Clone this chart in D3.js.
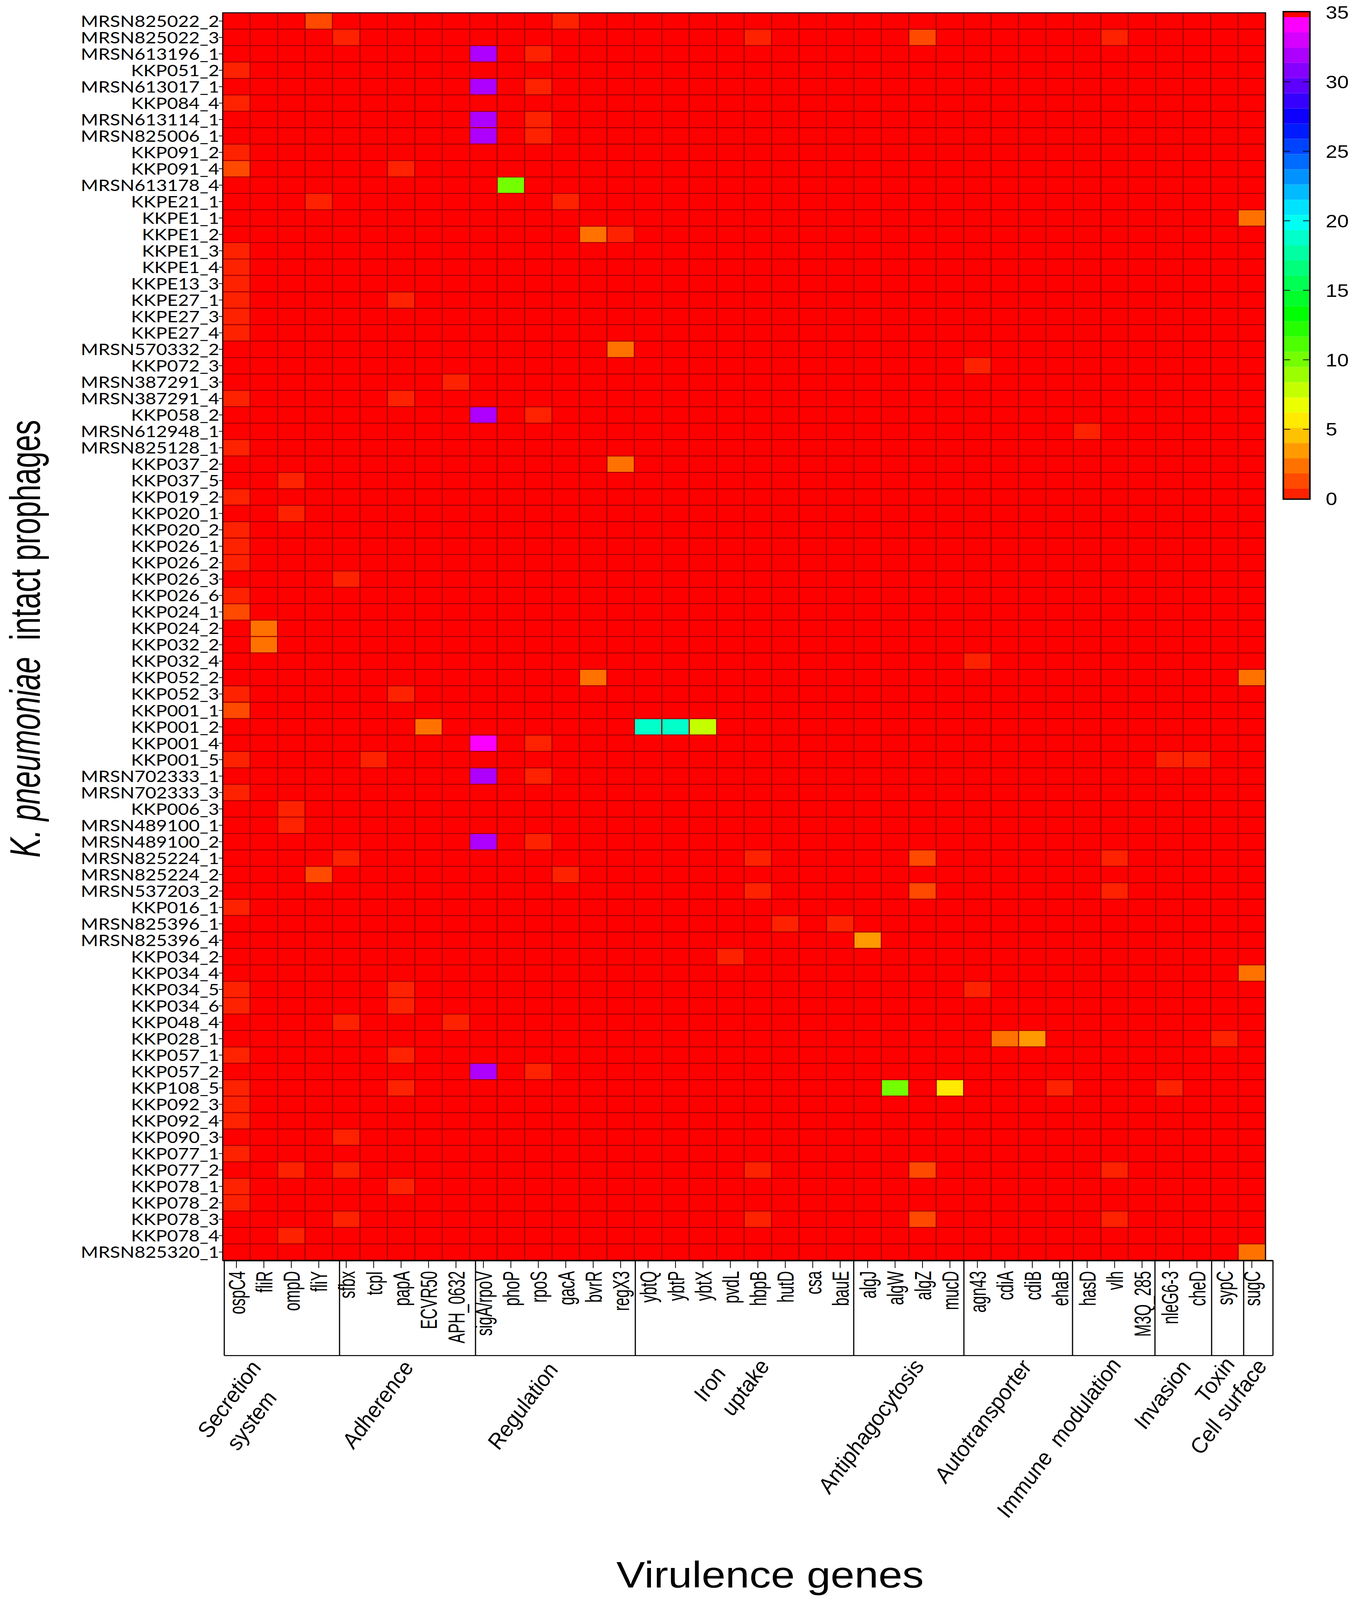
<!DOCTYPE html>
<html>
<head>
<meta charset="utf-8">
<script src="https://cdnjs.cloudflare.com/ajax/libs/d3/7.8.5/d3.min.js"></script>
<style>
  html, body { margin: 0; padding: 0; background: #fff; overflow: hidden; }
  svg { display: block; width: 100vw; height: 100vh; }
  text { fill: #000; }
</style>
</head>
<body>
<svg id="chart"></svg>
<script>
/* DATA */
const prophages = [
  "MRSN825022_2", "MRSN825022_3", "MRSN613196_1", "KKP051_2", "MRSN613017_1", "KKP084_4",
  "MRSN613114_1", "MRSN825006_1", "KKP091_2", "KKP091_4", "MRSN613178_4", "KKPE21_1",
  "KKPE1_1", "KKPE1_2", "KKPE1_3", "KKPE1_4", "KKPE13_3", "KKPE27_1", "KKPE27_3", "KKPE27_4",
  "MRSN570332_2", "KKP072_3", "MRSN387291_3", "MRSN387291_4", "KKP058_2", "MRSN612948_1",
  "MRSN825128_1", "KKP037_2", "KKP037_5", "KKP019_2", "KKP020_1", "KKP020_2", "KKP026_1",
  "KKP026_2", "KKP026_3", "KKP026_6", "KKP024_1", "KKP024_2", "KKP032_2", "KKP032_4",
  "KKP052_2", "KKP052_3", "KKP001_1", "KKP001_2", "KKP001_4", "KKP001_5", "MRSN702333_1",
  "MRSN702333_3", "KKP006_3", "MRSN489100_1", "MRSN489100_2", "MRSN825224_1", "MRSN825224_2",
  "MRSN537203_2", "KKP016_1", "MRSN825396_1", "MRSN825396_4", "KKP034_2", "KKP034_4",
  "KKP034_5", "KKP034_6", "KKP048_4", "KKP028_1", "KKP057_1", "KKP057_2", "KKP108_5",
  "KKP092_3", "KKP092_4", "KKP090_3", "KKP077_1", "KKP077_2", "KKP078_1", "KKP078_2",
  "KKP078_3", "KKP078_4", "MRSN825320_1"
];

const genes = [
  "ospC4", "fliR", "ompD", "fliY", "sfbx", "tcpI", "papA", "ECVR50", "APH_0632", "sigA/rpoV",
  "phoP", "rpoS", "gacA", "bvrR", "regX3", "ybtQ", "ybtP", "ybtX", "pvdL", "hbpB", "hutD",
  "csa", "bauE", "algJ", "algW", "algZ", "mucD", "agn43", "cdiA", "cdiB", "ehaB", "hasD",
  "vlh", "M3Q_285", "nleG6-3", "cheD", "sypC", "sugC"
];

// Cells that are not 0: [prophage, gene, value]
const nonZeroCells = [
  ["MRSN825022_2", "fliY", 1], ["MRSN825022_2", "gacA", 0.5],
  ["MRSN825022_3", "sfbx", 0.5], ["MRSN825022_3", "hbpB", 0.5], ["MRSN825022_3", "algZ", 1], ["MRSN825022_3", "vlh", 0.5],
  ["MRSN613196_1", "sigA/rpoV", 32], ["MRSN613196_1", "rpoS", 0.5],
  ["KKP051_2", "ospC4", 0.5],
  ["MRSN613017_1", "sigA/rpoV", 32], ["MRSN613017_1", "rpoS", 0.5],
  ["KKP084_4", "ospC4", 0.5],
  ["MRSN613114_1", "sigA/rpoV", 32], ["MRSN613114_1", "rpoS", 0.5],
  ["MRSN825006_1", "sigA/rpoV", 32], ["MRSN825006_1", "rpoS", 0.5],
  ["KKP091_2", "ospC4", 0.5],
  ["KKP091_4", "ospC4", 1], ["KKP091_4", "papA", 0.5],
  ["MRSN613178_4", "phoP", 10],
  ["KKPE21_1", "fliY", 0.5], ["KKPE21_1", "gacA", 0.5],
  ["KKPE1_1", "sugC", 2],
  ["KKPE1_2", "bvrR", 2], ["KKPE1_2", "regX3", 0.5],
  ["KKPE1_3", "ospC4", 0.5],
  ["KKPE1_4", "ospC4", 0.5],
  ["KKPE13_3", "ospC4", 0.5],
  ["KKPE27_1", "ospC4", 0.5], ["KKPE27_1", "papA", 0.5],
  ["KKPE27_3", "ospC4", 0.5],
  ["KKPE27_4", "ospC4", 0.5],
  ["MRSN570332_2", "regX3", 2],
  ["KKP072_3", "agn43", 0.5],
  ["MRSN387291_3", "APH_0632", 0.5],
  ["MRSN387291_4", "ospC4", 0.5], ["MRSN387291_4", "papA", 0.5],
  ["KKP058_2", "sigA/rpoV", 32], ["KKP058_2", "rpoS", 0.5],
  ["MRSN612948_1", "hasD", 0.5],
  ["MRSN825128_1", "ospC4", 0.5],
  ["KKP037_2", "regX3", 2],
  ["KKP037_5", "ompD", 0.5],
  ["KKP019_2", "ospC4", 0.5],
  ["KKP020_1", "ompD", 0.5],
  ["KKP020_2", "ospC4", 0.5],
  ["KKP026_1", "ospC4", 0.5],
  ["KKP026_2", "ospC4", 0.5],
  ["KKP026_3", "sfbx", 0.5],
  ["KKP026_6", "ospC4", 0.5],
  ["KKP024_1", "ospC4", 1],
  ["KKP024_2", "fliR", 2],
  ["KKP032_2", "fliR", 2],
  ["KKP032_4", "agn43", 0.5],
  ["KKP052_2", "bvrR", 2], ["KKP052_2", "sugC", 2],
  ["KKP052_3", "ospC4", 0.5], ["KKP052_3", "papA", 0.5],
  ["KKP001_1", "ospC4", 1],
  ["KKP001_2", "ECVR50", 2], ["KKP001_2", "ybtQ", 19], ["KKP001_2", "ybtP", 19], ["KKP001_2", "ybtX", 8],
  ["KKP001_4", "sigA/rpoV", 34], ["KKP001_4", "rpoS", 0.5],
  ["KKP001_5", "ospC4", 0.5], ["KKP001_5", "tcpI", 0.5], ["KKP001_5", "nleG6-3", 0.5], ["KKP001_5", "cheD", 0.5],
  ["MRSN702333_1", "sigA/rpoV", 32], ["MRSN702333_1", "rpoS", 0.5],
  ["MRSN702333_3", "ospC4", 0.5],
  ["KKP006_3", "ompD", 0.5],
  ["MRSN489100_1", "ompD", 0.5],
  ["MRSN489100_2", "sigA/rpoV", 32], ["MRSN489100_2", "rpoS", 0.5],
  ["MRSN825224_1", "sfbx", 0.5], ["MRSN825224_1", "hbpB", 0.5], ["MRSN825224_1", "algZ", 1], ["MRSN825224_1", "vlh", 0.5],
  ["MRSN825224_2", "fliY", 1], ["MRSN825224_2", "gacA", 0.5],
  ["MRSN537203_2", "hbpB", 0.5], ["MRSN537203_2", "algZ", 1], ["MRSN537203_2", "vlh", 0.5],
  ["KKP016_1", "ospC4", 0.5],
  ["MRSN825396_1", "hutD", 0.5], ["MRSN825396_1", "bauE", 0.5],
  ["MRSN825396_4", "algJ", 3],
  ["KKP034_2", "pvdL", 0.5],
  ["KKP034_4", "sugC", 2],
  ["KKP034_5", "ospC4", 0.5], ["KKP034_5", "papA", 0.5], ["KKP034_5", "agn43", 0.5],
  ["KKP034_6", "ospC4", 0.5], ["KKP034_6", "papA", 0.5],
  ["KKP048_4", "sfbx", 0.5], ["KKP048_4", "APH_0632", 0.5],
  ["KKP028_1", "cdiA", 2], ["KKP028_1", "cdiB", 3], ["KKP028_1", "sypC", 0.5],
  ["KKP057_1", "ospC4", 0.5], ["KKP057_1", "papA", 0.5],
  ["KKP057_2", "sigA/rpoV", 32], ["KKP057_2", "rpoS", 0.5],
  ["KKP108_5", "ospC4", 0.5], ["KKP108_5", "papA", 0.5], ["KKP108_5", "algW", 10], ["KKP108_5", "mucD", 6], ["KKP108_5", "ehaB", 0.5], ["KKP108_5", "nleG6-3", 0.5],
  ["KKP092_3", "ospC4", 0.5],
  ["KKP092_4", "ospC4", 0.5],
  ["KKP090_3", "sfbx", 0.5],
  ["KKP077_1", "ospC4", 0.5],
  ["KKP077_2", "ompD", 0.5], ["KKP077_2", "sfbx", 0.5], ["KKP077_2", "hbpB", 0.5], ["KKP077_2", "algZ", 1], ["KKP077_2", "vlh", 0.5],
  ["KKP078_1", "ospC4", 0.5], ["KKP078_1", "papA", 0.5],
  ["KKP078_2", "ospC4", 0.5],
  ["KKP078_3", "sfbx", 0.5], ["KKP078_3", "hbpB", 0.5], ["KKP078_3", "algZ", 1], ["KKP078_3", "vlh", 0.5],
  ["KKP078_4", "ompD", 0.5],
  ["MRSN825320_1", "sugC", 2]
];

const colorTicks = [0, 5, 10, 15, 20, 25, 30, 35];
const yTitle = ["K. pneumoniae", "  intact prophages"];
const xTitle = "Virulence genes";

/* LAYOUT */
const width = 3491, height = 4752;
const plot = { left: 570, right: 3239, top: 38, bottom: 3743 };
const bar = { left: 3286, right: 3351, top: 36, bottom: 1481 };
const boxBottom = 4026;
const boxEdges = [574, 869, 1217, 1626, 2185, 2467, 2745, 2956, 3101, 3183, 3258];
// group labels sit at an angle; each entry is the point where the text ends
const groupLabels = [
  ["Secretion", 672, 4060], ["system", 712, 4150], ["Adherence", 1062, 4060], ["Regulation", 1432, 4066],
  ["Iron", 1861, 4078], ["uptake", 1973, 4056], ["Antiphagocytosis", 2368, 4056], ["Autotransporter", 2644, 4058],
  ["Immune  modulation", 2873, 4052], ["Invasion", 3052, 4059], ["Toxin", 3164, 4050], ["Cell surface", 3246, 4056]
];

// The drawing keeps its 3491x4752 coordinates and is fitted to the window,
// the sandbox window is only 4096 high and would cut the bottom off otherwise
const svg = d3.select("#chart")
  .attr("viewBox", `0 0 ${width} ${height}`)
  .attr("preserveAspectRatio", "none")
  .style("font-family", "'Liberation Sans', Arial, sans-serif");

/* SCALES */
const x = d3.scaleBand().domain(genes).range([plot.left, plot.right]);
const y = d3.scaleBand().domain(prophages).range([plot.top, plot.bottom]);
const barY = d3.scaleLinear().domain([0, 35]).range([bar.bottom, bar.top]);

// 33 steps of the colour bar, first threshold separates the plain 0 cells
const bandThresholds = [0.01].concat(d3.range(32).map(k => 0.72 + k * 1.094));
const bandColors = ["#ff0000"]
  .concat(d3.range(32).map(k => d3.hsl(8 + 9.4 * k, 1, 0.5).formatHex()))
  .concat(["#ff0000"]);
const color = d3.scaleThreshold().domain(bandThresholds).range(bandColors);

/* HEATMAP */
const lookup = new Map(nonZeroCells.map(d => [d[0] + "|" + d[1], d[2]]));
const cells = d3.cross(prophages, genes).map(([p, g]) => ({ p, g, v: lookup.get(p + "|" + g) || 0 }));

svg.append("g").selectAll("rect").data(cells).join("rect")
  .attr("x", d => x(d.g))
  .attr("y", d => y(d.p))
  .attr("width", x.bandwidth())
  .attr("height", y.bandwidth())
  .attr("fill", d => color(d.v));

const grid = svg.append("g").attr("stroke", "#a80000").attr("stroke-width", 3);
grid.selectAll(".gx").data(genes.slice(1)).join("line")
  .attr("class", "gx")
  .attr("x1", d => x(d)).attr("x2", d => x(d))
  .attr("y1", plot.top).attr("y2", plot.bottom);
grid.selectAll(".gy").data(prophages.slice(1)).join("line")
  .attr("class", "gy")
  .attr("y1", d => y(d)).attr("y2", d => y(d))
  .attr("x1", plot.left).attr("x2", plot.right);

svg.append("rect")
  .attr("x", plot.left).attr("y", plot.top)
  .attr("width", plot.right - plot.left).attr("height", plot.bottom - plot.top)
  .attr("fill", "none").attr("stroke", "#000").attr("stroke-width", 3);
svg.append("line")
  .attr("x1", plot.left).attr("x2", plot.right + 19)
  .attr("y1", plot.bottom + 1).attr("y2", plot.bottom + 1)
  .attr("stroke", "#000").attr("stroke-width", 4);

/* AXES */
const yAxis = svg.append("g")
  .attr("transform", `translate(${plot.left},0)`)
  .call(d3.axisLeft(y).tickSize(10).tickPadding(0));
yAxis.select(".domain").remove();
yAxis.selectAll("line").attr("stroke-width", 2);
yAxis.selectAll("text")
  .style("font-family", "Lato, sans-serif")
  .style("font-size", "48px")
  .attr("x", -9)
  .attr("dy", "0.36em");

const xAxis = svg.append("g")
  .attr("transform", `translate(0,${plot.bottom + 3})`)
  .call(d3.axisBottom(x).tickSize(20).tickPadding(0));
xAxis.select(".domain").remove();
xAxis.selectAll("line").attr("stroke-width", 2);
xAxis.selectAll("text")
  .style("font-family", "'Liberation Sans', Arial, sans-serif")
  .style("font-size", "60px")
  .attr("text-anchor", "end")
  .attr("x", 0).attr("y", 0).attr("dy", "0.36em")
  .attr("transform", "translate(0,29) rotate(-90) scale(0.74,1)");

/* GROUP BOXES */
const boxes = svg.append("g").attr("fill", "none").attr("stroke", "#000").attr("stroke-width", 3);
boxes.selectAll("line").data(boxEdges).join("line")
  .attr("x1", d => d).attr("x2", d => d)
  .attr("y1", plot.bottom).attr("y2", boxBottom);
boxes.append("line")
  .attr("x1", boxEdges[0]).attr("x2", boxEdges[boxEdges.length - 1])
  .attr("y1", boxBottom).attr("y2", boxBottom);

svg.append("g").selectAll("text").data(groupLabels).join("text")
  .attr("transform", d => `translate(${d[1]},${d[2]}) rotate(-57.5)`)
  .attr("text-anchor", "end")
  .style("font-size", "60px")
  .style("font-style", "italic")
  .style("white-space", "pre")
  .text(d => d[0]);

/* COLOUR BAR */
const bands = bandColors.slice(1).map((c, i) => ({
  c,
  lo: i === 0 ? 0 : bandThresholds[i],
  hi: i === 32 ? 35 : bandThresholds[i + 1]
}));
svg.append("g").selectAll("rect").data(bands).join("rect")
  .attr("x", bar.left)
  .attr("width", bar.right - bar.left)
  .attr("y", d => barY(d.hi))
  .attr("height", d => barY(d.lo) - barY(d.hi))
  .attr("fill", d => d.c);

const barAxis = svg.append("g")
  .attr("transform", `translate(${bar.left},0)`)
  .call(d3.axisRight(barY).tickValues(colorTicks).tickSize(16).tickPadding(91));
barAxis.select(".domain").remove();
barAxis.selectAll("line")
  .attr("stroke-width", 2)
  .attr("opacity", d => (d === 0 || d === 35) ? 0 : 1);
barAxis.selectAll("text")
  .style("font-family", "'Liberation Sans', Arial, sans-serif")
  .style("font-size", "53px")
  .attr("dy", "0.36em");

const barAxisRight = svg.append("g")
  .attr("transform", `translate(${bar.right},0)`)
  .call(d3.axisLeft(barY).tickValues(colorTicks.slice(1, -1)).tickSize(16).tickFormat(""));
barAxisRight.select(".domain").remove();
barAxisRight.selectAll("line").attr("stroke-width", 2);

svg.append("rect")
  .attr("x", bar.left - 1.5).attr("y", bar.top - 1.5)
  .attr("width", bar.right - bar.left + 3).attr("height", bar.bottom - bar.top + 3)
  .attr("fill", "none").attr("stroke", "#000").attr("stroke-width", 4);

/* TITLES */
svg.append("text")
  .attr("x", 1971).attr("y", 4715)
  .attr("text-anchor", "middle")
  .style("font-size", "110px")
  .text(xTitle);

const yLabel = svg.append("text")
  .attr("transform", "translate(102,1897) rotate(-90) scale(0.805,1)")
  .attr("text-anchor", "middle")
  .style("font-size", "110px")
  .style("white-space", "pre");
yLabel.append("tspan").style("font-style", "italic").text(yTitle[0]);
yLabel.append("tspan").text(yTitle[1]);
</script>
</body>
</html>
